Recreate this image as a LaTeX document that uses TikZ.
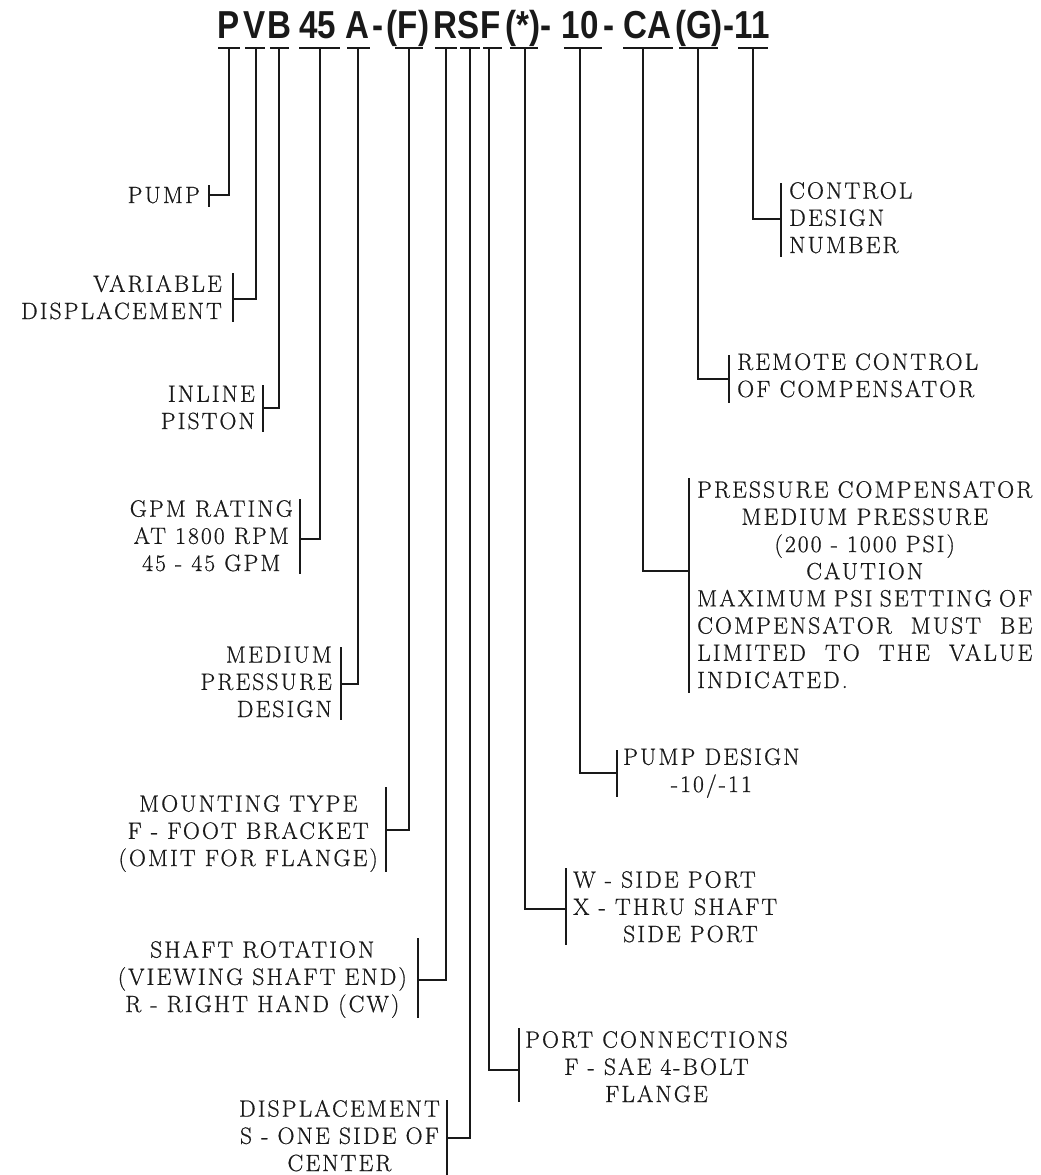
\documentclass[tikz,border=0pt]{standalone}
\usepackage{fontspec}
\setmainfont{Latin Modern Roman}[LetterSpace=9,FakeBold=0.7]
\newfontfamily\ttlfam{Liberation Sans}[FakeStretch=0.85]
\definecolor{ink}{gray}{0.1}
\newcommand\labfont{\fontsize{23.5}{27.2}\selectfont}
\newcommand\ttlfont{\ttlfam\bfseries\fontsize{39}{40}\selectfont}
\tikzset{
  conn/.style={line width=1.4pt, draw=ink},
  topbar/.style={line width=2.4pt, draw=ink},
  lbar/.style={line width=1.4pt, draw=ink},
  lab/.style={inner sep=0pt, font=\labfont, text=ink},
  ttl/.style={inner sep=0pt, font=\ttlfont, anchor=base, text=ink}
}
\begin{document}
\begin{tikzpicture}[x=1pt,y=-1pt]
\useasboundingbox (0,0) rectangle (1041,1175);
% title
\node[ttl] (tP)  at (229,38) {P};
\node[ttl] (tV)  at (255,38) {V};
\node[ttl] (tB)  at (279,38) {B};
\node[ttl] (t45) at (318,38) {45};
\node[ttl] (tA)  at (357,38) {A};
\node[ttl] (d1)  at (378,38) {-};
\node[ttl] (tFa) at (408,38) {(F)};
\node[ttl] (tR)  at (445,38) {R};
\node[ttl] (tS)  at (469,38) {S};
\node[ttl] (tFb) at (491,38) {F};
\node[ttl] (tSt) at (523,38) {(*)};
\node[ttl] (d2)  at (546,38) {-};
\node[ttl] (t10) at (580,38) {10};
\node[ttl] (d3)  at (609,38) {-};
\node[ttl] (tCA) at (647,38) {CA};
\node[ttl] (tG)  at (699,38) {(G)};
\node[ttl] (d4)  at (729,38) {-};
\node[ttl] (t11) at (752,38) {11};
% tick coordinates
\coordinate (kP)  at (229,48);
\coordinate (kV)  at (256,48);
\coordinate (kB)  at (279,48);
\coordinate (k45) at (320,48);
\coordinate (kA)  at (358,48);
\coordinate (kFa) at (409,48);
\coordinate (kR)  at (446,48);
\coordinate (kS)  at (470,48);
\coordinate (kFb) at (489,48);
\coordinate (kSt) at (525,48);
\coordinate (k10) at (580,48);
\coordinate (kCA) at (643,48);
\coordinate (kG)  at (698,48);
\coordinate (k11) at (753,48);
% top bars
\draw[topbar] (218,48) -- (240,48);
\draw[topbar] (245,48) -- (265,48);
\draw[topbar] (270,48) -- (289,48);
\draw[topbar] (299,48) -- (340,48);
\draw[topbar] (347,48) -- (370,48);
\draw[topbar] (395,48) -- (423,48);
\draw[topbar] (435,48) -- (457,48);
\draw[topbar] (460,48) -- (480,48);
\draw[topbar] (483,48) -- (502,48);
\draw[topbar] (510,48) -- (538,48);
\draw[topbar] (564,48) -- (602,48);
\draw[topbar] (623,48) -- (673,48);
\draw[topbar] (679,48) -- (718,48);
\draw[topbar] (738,48) -- (768,48);
% labels (anchor = baseline of last line)
\node[lab, anchor=base east, align=right]  (lPump) at (200,203) {PUMP};
\node[lab, anchor=base east, align=right]  (lVar)  at (222,319) {VARIABLE\\DISPLACEMENT};
\node[lab, anchor=base east, align=right]  (lInl)  at (255,429) {INLINE\\PISTON};
\node[lab, anchor=base east, align=center] (lGpm)  at (293,571) {GPM RATING\\AT 1800 RPM\\45 - 45 GPM};
\node[lab, anchor=base east, align=right]  (lMed)  at (332,717) {MEDIUM\\PRESSURE\\DESIGN};
\node[lab, anchor=base east, align=center] (lMnt)  at (378,866) {MOUNTING TYPE\\F - FOOT BRACKET\\(OMIT FOR FLANGE)};
\node[lab, anchor=base east, align=center] (lSh)   at (407,1012) {SHAFT ROTATION\\(VIEWING SHAFT END)\\R - RIGHT HAND (CW)};
\node[lab, anchor=base east, align=center] (lDis)  at (440,1171) {DISPLACEMENT\\S - ONE SIDE OF\\CENTER};
\node[lab, anchor=base west, align=center] (lPort) at (525,1102) {PORT CONNECTIONS\\F - SAE 4-BOLT\\FLANGE};
\node[lab, anchor=base west, align=left]   (lW)    at (573,942) {W - SIDE PORT\\X - THRU SHAFT\\\hspace*{50pt}SIDE PORT};
\node[lab, anchor=base west, align=center] (lPD)   at (623,792) {PUMP DESIGN\\-10/-11};
\node[lab, anchor=base west, align=left]   (lPC)   at (697,688) {\makebox[335pt]{PRESSURE COMPENSATOR}\\\makebox[335pt]{MEDIUM PRESSURE}\\\makebox[335pt]{(200 - 1000 PSI)}\\\makebox[335pt]{CAUTION}\\\makebox[335pt][s]{MAXIMUM PSI SETTING OF}\\\makebox[335pt][s]{COMPENSATOR MUST BE}\\\makebox[335pt][s]{LIMITED TO THE VALUE}\\INDICATED.};
\node[lab, anchor=base west, align=left]   (lRem)  at (737,397) {REMOTE CONTROL\\OF COMPENSATOR};
\node[lab, anchor=base west, align=left]   (lCtl)  at (789,253) {CONTROL\\DESIGN\\NUMBER};
% label bars
\draw[lbar] (209,185) -- (209,207);
\draw[lbar] (233,273) -- (233,322);
\draw[lbar] (263,385) -- (263,432);
\draw[lbar] (300,499) -- (300,574);
\draw[lbar] (341,647) -- (341,720);
\draw[lbar] (386,787) -- (386,872);
\draw[lbar] (418,938) -- (418,1018);
\draw[lbar] (447,1100) -- (447,1175);
\draw[lbar] (519,1028) -- (519,1102);
\draw[lbar] (566,868) -- (566,945);
\draw[lbar] (617,750) -- (617,797);
\draw[lbar] (689,478) -- (689,693);
\draw[lbar] (729,355) -- (729,403);
\draw[lbar] (781,183) -- (781,257);
% bar midpoints
\coordinate (bPump) at (209,195);
\coordinate (bVar)  at (233,299);
\coordinate (bInl)  at (263,408);
\coordinate (bGpm)  at (300,539);
\coordinate (bMed)  at (341,684);
\coordinate (bMnt)  at (386,830);
\coordinate (bSh)   at (418,980);
\coordinate (bDis)  at (447,1138);
\coordinate (bPort) at (519,1070);
\coordinate (bW)    at (566,909);
\coordinate (bPD)   at (617,773);
\coordinate (bPC)   at (689,571);
\coordinate (bRem)  at (729,379);
\coordinate (bCtl)  at (781,219);
% connectors
\draw[conn] (kP)  |- (bPump);
\draw[conn] (kV)  |- (bVar);
\draw[conn] (kB)  |- (bInl);
\draw[conn] (k45) |- (bGpm);
\draw[conn] (kA)  |- (bMed);
\draw[conn] (kFa) |- (bMnt);
\draw[conn] (kR)  |- (bSh);
\draw[conn] (kS)  |- (bDis);
\draw[conn] (kFb) |- (bPort);
\draw[conn] (kSt) |- (bW);
\draw[conn] (k10) |- (bPD);
\draw[conn] (kCA) |- (bPC);
\draw[conn] (kG)  |- (bRem);
\draw[conn] (k11) |- (bCtl);
\end{tikzpicture}
\end{document}
